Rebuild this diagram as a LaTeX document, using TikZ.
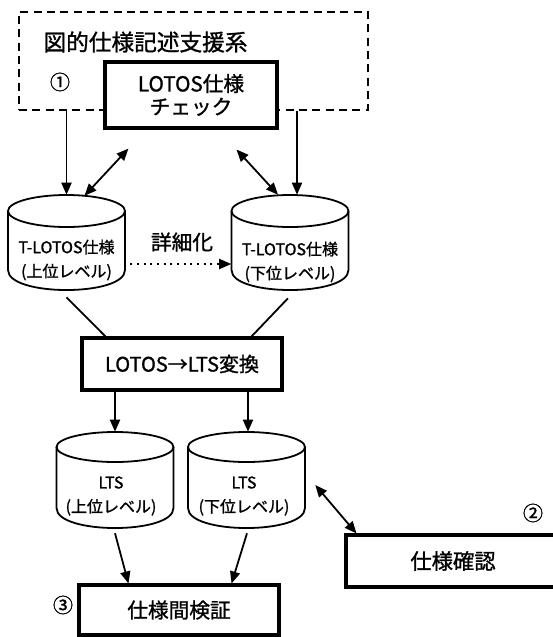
\documentclass[tikz,border=0pt]{standalone}
\usepackage{fontspec}
\newfontfamily\jpf{Noto Sans CJK JP}[FakeBold=1.2]
\newcommand\jp{\jpf}
\usetikzlibrary{arrows.meta,calc}
% #1 cx, #2 top, #3 half width, #4 ry, #5 side bottom, #6 sag*4/3
\newcommand\mycyl[6]{%
  \draw[cyl] ({#1},{#2+#4}) ellipse [x radius=#3, y radius=#4];
  \draw[cyl] ({#1-#3},{#2+#4}) -- ({#1-#3},{#5})
     .. controls ({#1-#3},{#5+#6}) and ({#1+#3},{#5+#6}) .. ({#1+#3},{#5})
     -- ({#1+#3},{#2+#4});
}
\begin{document}
\begin{tikzpicture}[x=0.75pt,y=-0.75pt,
  box/.style={draw, line width=2.3pt, fill=white, inner sep=0pt},
  arr/.style={line width=1.35pt, -{Triangle[length=9pt,width=7.5pt]}},
  darr/.style={line width=1.35pt, {Triangle[length=9pt,width=7.5pt]}-{Triangle[length=9pt,width=7.5pt]}},
  cyl/.style={line width=1.35pt},
  cylbox/.style={inner sep=0pt, minimum width=87.75pt},
  lbl/.style={inner sep=0pt}]
\useasboundingbox (0,0) rectangle (553,637);
\clip (0,0) rectangle (553,637);

% dashed system box
\node (sys) [draw, dash pattern=on 6pt off 4pt, line width=1.3pt, inner sep=0pt,
  minimum width=261.75pt, minimum height=73.5pt] at (193.5,61) {};
\node (title) [lbl, font={\jp\fontsize{17}{17}\selectfont}] at (145.5,42) {図的仕様記述支援系};
\node (n1) [lbl, font={\jp\fontsize{15}{15}\selectfont}] at (60,82) {①};
\node (chk) [box, align=center, minimum width=129pt, minimum height=49.5pt,
  font={\jp\fontsize{15.5}{17.25}\selectfont}] at (191,95) {LOTOS仕様\\チェック};

% T-LOTOS cylinders
\mycyl{66.5}{195}{58.5}{16}{270}{26.7}
\mycyl{290}{195}{58.5}{16}{270}{26.7}
\node (cL) [cylbox, minimum height=71.25pt] at (66.5,242.5) {};
\node (cR) [cylbox, minimum height=71.25pt] at (290,242.5) {};
\node (cLt) [lbl, align=center, font={\jp\fontsize{12}{18}\selectfont}] at (66.5,260) {T-LOTOS仕様\\(上位レベル)};
\node (cRt) [lbl, align=center, font={\jp\fontsize{12}{18}\selectfont}] at (290,262) {T-LOTOS仕様\\(下位レベル)};
\node (ref) [lbl, font={\jp\fontsize{15.5}{15.5}\selectfont}] at (182,242) {詳細化};

% conversion box
\node (conv) [box, minimum width=150pt, minimum height=39pt,
  font={\jp\fontsize{15}{15}\selectfont}] at (182,364) {LOTOS→LTS変換};

% LTS cylinders
\mycyl{115}{432}{58.5}{15}{508}{26.7}
\mycyl{246.5}{432}{58.5}{15}{508}{26.7}
\node (lL) [cylbox, minimum height=72pt] at (115,480) {};
\node (lR) [cylbox, minimum height=72pt] at (246.5,480) {};
\node (lLt) [lbl, align=center, font={\jp\fontsize{12}{18}\selectfont}] at (111,496) {LTS\\(上位レベル)};
\node (lRt) [lbl, align=center, font={\jp\fontsize{12}{18}\selectfont}] at (244,496) {LTS\\(下位レベル)};

% verification and confirmation
\node (ver) [box, minimum width=150pt, minimum height=37.5pt,
  font={\jp\fontsize{15.5}{15.5}\selectfont}] at (179,610) {仕様間検証};
\node (n3) [lbl, font={\jp\fontsize{15}{15}\selectfont}] at (63,605) {③};
\node (conf) [box, minimum width=160.5pt, minimum height=39pt,
  font={\jp\fontsize{16}{16}\selectfont}] at (453,561) {仕様確認};
\node (n2) [lbl, font={\jp\fontsize{15}{15}\selectfont}] at (533,513) {②};

% connectors
\draw[arr] (sys.south -| cL.north) -- (cL.north);
\draw[arr] ($(sys.south -| cR.north)+(7,0)$) -- ($(cR.north)+(7,0)$);
\draw[darr] ($(cL.north)+(18,1)$) -- ($(chk.south west)+(25,19)$);
\draw[darr] ($(chk.south east)+(-42,20)$) -- ($(cR.north)+(-12,0)$);
\draw[line width=1.35pt, dash pattern=on 1.5pt off 3.5pt, -{Triangle[length=9pt,width=7.5pt]}]
  ($(cL.east)+(5,21.5)$) -- ($(cR.west)+(0,21.5)$);
\draw[cyl] ($(cL.south)+(0,7)$) -- ($(conv.north west)+(25,0)$);
\draw[cyl] ($(cR.south)+(-2,8)$) -- ($(conv.north east)+(-32,0)$);
\draw[arr] (conv.south -| lL.north) -- (lL.north);
\draw[arr] ($(conv.south -| lR.north)+(1.5,0)$) -- ($(lR.north)+(1.5,0)$);
\draw[arr] ($(lL.south)+(0,5)$) -- ($(ver.north west)+(51,0)$);
\draw[arr] ($(lR.south)+(0.5,5)$) -- ($(ver.north east)+(-49,0)$);
\draw[darr] ($(lR.east)+(10,5)$) -- ($(conf.north west)+(12,0)$);
\end{tikzpicture}
\end{document}
